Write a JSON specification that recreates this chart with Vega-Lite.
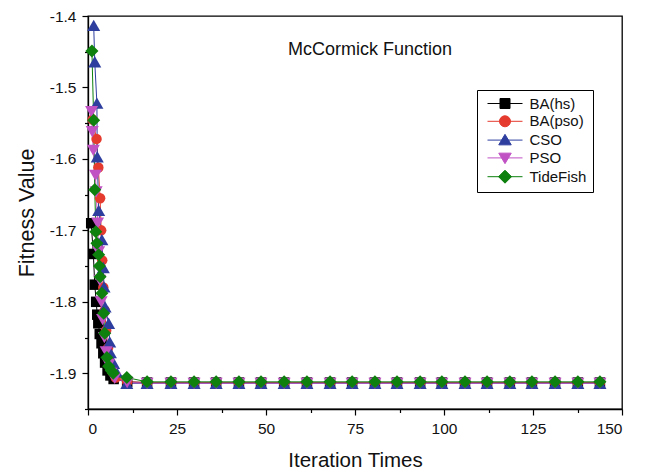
{
  "$schema": "https://vega.github.io/schema/vega-lite/v6.json",
  "width": 534,
  "height": 393,
  "autosize": {"type": "none"},
  "padding": {"left": 88, "top": 16, "right": 25, "bottom": 64},
  "background": "white",
  "config": {
    "font": "Liberation Sans",
    "view": {"stroke": "#000", "strokeWidth": 1.3},
    "axis": {"grid": false, "domainColor": "#000", "tickColor": "#000", "labelColor": "#111", "titleColor": "#111", "labelFontSize": 15.5, "titleFontSize": 20.5, "titleFontWeight": "normal", "domainWidth": 1.3, "tickWidth": 1.2},
    "legend": {"orient": "none", "legendX": 389, "legendY": 74, "strokeColor": "#000", "fillColor": "white", "padding": 6,
      "labelFontSize": 15, "labelColor": "#111", "symbolSize": 100, "symbolOffset": 14.5, "labelOffset": 17, "rowPadding": 1.8, "symbolStrokeWidth": 1}
  },
  "title": {"text": "McCormick Function", "fontSize": 18, "fontWeight": "normal", "frame": "group", "anchor": "middle", "dx": 15, "offset": -50, "color": "#111"},
  "datasets": {"pts": [
    {"s": "BA(hs)", "x": 0.9, "y": -1.690},
    {"s": "BA(hs)", "x": 1.5, "y": -1.733},
    {"s": "BA(hs)", "x": 1.9, "y": -1.776},
    {"s": "BA(hs)", "x": 2.3, "y": -1.800},
    {"s": "BA(hs)", "x": 2.6, "y": -1.818},
    {"s": "BA(hs)", "x": 2.9, "y": -1.830},
    {"s": "BA(hs)", "x": 3.3, "y": -1.845},
    {"s": "BA(hs)", "x": 3.8, "y": -1.858},
    {"s": "BA(hs)", "x": 4.3, "y": -1.872},
    {"s": "BA(hs)", "x": 4.8, "y": -1.885},
    {"s": "BA(hs)", "x": 5.5, "y": -1.896},
    {"s": "BA(hs)", "x": 6.3, "y": -1.903},
    {"s": "BA(hs)", "x": 7.2, "y": -1.908},
    {"s": "BA(hs)", "x": 11.0, "y": -1.912},
    {"s": "BA(pso)", "x": 1.3, "y": -1.545},
    {"s": "BA(pso)", "x": 2.4, "y": -1.572},
    {"s": "BA(pso)", "x": 2.9, "y": -1.612},
    {"s": "BA(pso)", "x": 3.4, "y": -1.655},
    {"s": "BA(pso)", "x": 3.7, "y": -1.700},
    {"s": "BA(pso)", "x": 4.0, "y": -1.742},
    {"s": "BA(pso)", "x": 4.3, "y": -1.780},
    {"s": "BA(pso)", "x": 4.7, "y": -1.812},
    {"s": "BA(pso)", "x": 5.1, "y": -1.840},
    {"s": "BA(pso)", "x": 5.6, "y": -1.865},
    {"s": "BA(pso)", "x": 6.2, "y": -1.885},
    {"s": "BA(pso)", "x": 6.9, "y": -1.898},
    {"s": "BA(pso)", "x": 7.8, "y": -1.906},
    {"s": "BA(pso)", "x": 11.0, "y": -1.912},
    {"s": "CSO", "x": 1.6, "y": -1.413},
    {"s": "CSO", "x": 1.9, "y": -1.464},
    {"s": "CSO", "x": 2.5, "y": -1.522},
    {"s": "CSO", "x": 2.6, "y": -1.597},
    {"s": "CSO", "x": 3.0, "y": -1.672},
    {"s": "CSO", "x": 3.9, "y": -1.713},
    {"s": "CSO", "x": 4.3, "y": -1.752},
    {"s": "CSO", "x": 4.5, "y": -1.779},
    {"s": "CSO", "x": 4.8, "y": -1.807},
    {"s": "CSO", "x": 5.8, "y": -1.830},
    {"s": "CSO", "x": 6.1, "y": -1.856},
    {"s": "CSO", "x": 6.3, "y": -1.871},
    {"s": "CSO", "x": 7.2, "y": -1.886},
    {"s": "CSO", "x": 8.0, "y": -1.898},
    {"s": "CSO", "x": 10.9, "y": -1.914},
    {"s": "PSO", "x": 1.0, "y": -1.534},
    {"s": "PSO", "x": 1.2, "y": -1.562},
    {"s": "PSO", "x": 1.5, "y": -1.588},
    {"s": "PSO", "x": 2.1, "y": -1.623},
    {"s": "PSO", "x": 2.3, "y": -1.646},
    {"s": "PSO", "x": 2.7, "y": -1.690},
    {"s": "PSO", "x": 3.0, "y": -1.730},
    {"s": "PSO", "x": 3.3, "y": -1.770},
    {"s": "PSO", "x": 3.7, "y": -1.800},
    {"s": "PSO", "x": 4.1, "y": -1.825},
    {"s": "PSO", "x": 4.6, "y": -1.850},
    {"s": "PSO", "x": 5.1, "y": -1.870},
    {"s": "PSO", "x": 5.8, "y": -1.888},
    {"s": "PSO", "x": 6.5, "y": -1.900},
    {"s": "PSO", "x": 7.5, "y": -1.907},
    {"s": "PSO", "x": 11.0, "y": -1.913},
    {"s": "TideFish", "x": 1.1, "y": -1.449},
    {"s": "TideFish", "x": 1.6, "y": -1.546},
    {"s": "TideFish", "x": 1.9, "y": -1.643},
    {"s": "TideFish", "x": 2.2, "y": -1.702},
    {"s": "TideFish", "x": 2.5, "y": -1.718},
    {"s": "TideFish", "x": 3.0, "y": -1.734},
    {"s": "TideFish", "x": 3.2, "y": -1.750},
    {"s": "TideFish", "x": 3.4, "y": -1.765},
    {"s": "TideFish", "x": 3.9, "y": -1.788},
    {"s": "TideFish", "x": 4.4, "y": -1.816},
    {"s": "TideFish", "x": 4.7, "y": -1.844},
    {"s": "TideFish", "x": 5.3, "y": -1.878},
    {"s": "TideFish", "x": 5.8, "y": -1.890},
    {"s": "TideFish", "x": 6.5, "y": -1.896},
    {"s": "TideFish", "x": 7.1, "y": -1.900},
    {"s": "TideFish", "x": 10.9, "y": -1.906},
    {"s": "BA(hs)", "x": 16.6, "y": -1.913}, {"s": "BA(hs)", "x": 23.3, "y": -1.913}, {"s": "BA(hs)", "x": 29.8, "y": -1.913}, {"s": "BA(hs)", "x": 36.0, "y": -1.913}, {"s": "BA(hs)", "x": 42.4, "y": -1.913}, {"s": "BA(hs)", "x": 48.6, "y": -1.913}, {"s": "BA(hs)", "x": 55.1, "y": -1.913}, {"s": "BA(hs)", "x": 61.5, "y": -1.913}, {"s": "BA(hs)", "x": 68.0, "y": -1.913}, {"s": "BA(hs)", "x": 74.2, "y": -1.913}, {"s": "BA(hs)", "x": 80.6, "y": -1.913}, {"s": "BA(hs)", "x": 86.8, "y": -1.913}, {"s": "BA(hs)", "x": 93.3, "y": -1.913}, {"s": "BA(hs)", "x": 99.4, "y": -1.913}, {"s": "BA(hs)", "x": 105.9, "y": -1.913}, {"s": "BA(hs)", "x": 112.1, "y": -1.913}, {"s": "BA(hs)", "x": 118.5, "y": -1.913}, {"s": "BA(hs)", "x": 124.7, "y": -1.913}, {"s": "BA(hs)", "x": 131.2, "y": -1.913}, {"s": "BA(hs)", "x": 137.6, "y": -1.913}, {"s": "BA(hs)", "x": 143.8, "y": -1.913},
    {"s": "BA(pso)", "x": 16.6, "y": -1.913}, {"s": "BA(pso)", "x": 23.3, "y": -1.913}, {"s": "BA(pso)", "x": 29.8, "y": -1.913}, {"s": "BA(pso)", "x": 36.0, "y": -1.913}, {"s": "BA(pso)", "x": 42.4, "y": -1.913}, {"s": "BA(pso)", "x": 48.6, "y": -1.913}, {"s": "BA(pso)", "x": 55.1, "y": -1.913}, {"s": "BA(pso)", "x": 61.5, "y": -1.913}, {"s": "BA(pso)", "x": 68.0, "y": -1.913}, {"s": "BA(pso)", "x": 74.2, "y": -1.913}, {"s": "BA(pso)", "x": 80.6, "y": -1.913}, {"s": "BA(pso)", "x": 86.8, "y": -1.913}, {"s": "BA(pso)", "x": 93.3, "y": -1.913}, {"s": "BA(pso)", "x": 99.4, "y": -1.913}, {"s": "BA(pso)", "x": 105.9, "y": -1.913}, {"s": "BA(pso)", "x": 112.1, "y": -1.913}, {"s": "BA(pso)", "x": 118.5, "y": -1.913}, {"s": "BA(pso)", "x": 124.7, "y": -1.913}, {"s": "BA(pso)", "x": 131.2, "y": -1.913}, {"s": "BA(pso)", "x": 137.6, "y": -1.913}, {"s": "BA(pso)", "x": 143.8, "y": -1.913},
    {"s": "CSO", "x": 16.6, "y": -1.914}, {"s": "CSO", "x": 23.3, "y": -1.914}, {"s": "CSO", "x": 29.8, "y": -1.914}, {"s": "CSO", "x": 36.0, "y": -1.914}, {"s": "CSO", "x": 42.4, "y": -1.914}, {"s": "CSO", "x": 48.6, "y": -1.914}, {"s": "CSO", "x": 55.1, "y": -1.914}, {"s": "CSO", "x": 61.5, "y": -1.914}, {"s": "CSO", "x": 68.0, "y": -1.914}, {"s": "CSO", "x": 74.2, "y": -1.914}, {"s": "CSO", "x": 80.6, "y": -1.914}, {"s": "CSO", "x": 86.8, "y": -1.914}, {"s": "CSO", "x": 93.3, "y": -1.914}, {"s": "CSO", "x": 99.4, "y": -1.914}, {"s": "CSO", "x": 105.9, "y": -1.914}, {"s": "CSO", "x": 112.1, "y": -1.914}, {"s": "CSO", "x": 118.5, "y": -1.914}, {"s": "CSO", "x": 124.7, "y": -1.914}, {"s": "CSO", "x": 131.2, "y": -1.914}, {"s": "CSO", "x": 137.6, "y": -1.914}, {"s": "CSO", "x": 143.8, "y": -1.914},
    {"s": "PSO", "x": 16.6, "y": -1.914}, {"s": "PSO", "x": 23.3, "y": -1.914}, {"s": "PSO", "x": 29.8, "y": -1.914}, {"s": "PSO", "x": 36.0, "y": -1.914}, {"s": "PSO", "x": 42.4, "y": -1.914}, {"s": "PSO", "x": 48.6, "y": -1.914}, {"s": "PSO", "x": 55.1, "y": -1.914}, {"s": "PSO", "x": 61.5, "y": -1.914}, {"s": "PSO", "x": 68.0, "y": -1.914}, {"s": "PSO", "x": 74.2, "y": -1.914}, {"s": "PSO", "x": 80.6, "y": -1.914}, {"s": "PSO", "x": 86.8, "y": -1.914}, {"s": "PSO", "x": 93.3, "y": -1.914}, {"s": "PSO", "x": 99.4, "y": -1.914}, {"s": "PSO", "x": 105.9, "y": -1.914}, {"s": "PSO", "x": 112.1, "y": -1.914}, {"s": "PSO", "x": 118.5, "y": -1.914}, {"s": "PSO", "x": 124.7, "y": -1.914}, {"s": "PSO", "x": 131.2, "y": -1.914}, {"s": "PSO", "x": 137.6, "y": -1.914}, {"s": "PSO", "x": 143.8, "y": -1.914},
    {"s": "TideFish", "x": 16.6, "y": -1.912}, {"s": "TideFish", "x": 23.3, "y": -1.912}, {"s": "TideFish", "x": 29.8, "y": -1.912}, {"s": "TideFish", "x": 36.0, "y": -1.912}, {"s": "TideFish", "x": 42.4, "y": -1.912}, {"s": "TideFish", "x": 48.6, "y": -1.912}, {"s": "TideFish", "x": 55.1, "y": -1.912}, {"s": "TideFish", "x": 61.5, "y": -1.912}, {"s": "TideFish", "x": 68.0, "y": -1.912}, {"s": "TideFish", "x": 74.2, "y": -1.912}, {"s": "TideFish", "x": 80.6, "y": -1.912}, {"s": "TideFish", "x": 86.8, "y": -1.912}, {"s": "TideFish", "x": 93.3, "y": -1.912}, {"s": "TideFish", "x": 99.4, "y": -1.912}, {"s": "TideFish", "x": 105.9, "y": -1.912}, {"s": "TideFish", "x": 112.1, "y": -1.912}, {"s": "TideFish", "x": 118.5, "y": -1.912}, {"s": "TideFish", "x": 124.7, "y": -1.912}, {"s": "TideFish", "x": 131.2, "y": -1.912}, {"s": "TideFish", "x": 137.6, "y": -1.912}, {"s": "TideFish", "x": 143.8, "y": -1.912}
  ]},
  "data": {"name": "pts"},
  "encoding": {
    "x": {"field": "x", "type": "quantitative", "scale": {"domain": [0, 150], "nice": false},
      "axis": {"title": "Iteration Times", "values": [0, 12.5, 25, 37.5, 50, 62.5, 75, 87.5, 100, 112.5, 125, 137.5, 150], "format": "d",
        "labelExpr": "datum.value % 25 === 0 ? datum.label : ''",
        "tickSize": {"condition": {"test": "datum.value % 25 === 0", "value": 6}, "value": 3.5},
        "labelPadding": 6, "titlePadding": 14}},
    "y": {"field": "y", "type": "quantitative", "scale": {"domain": [-1.95, -1.4], "nice": false, "zero": false},
      "axis": {"title": "Fitness Value", "titleFontSize": 21.5, "values": [-1.95, -1.9, -1.85, -1.8, -1.75, -1.7, -1.65, -1.6, -1.55, -1.5, -1.45, -1.4], "format": ".1f",
        "labelExpr": "abs(datum.value * 10 - round(datum.value * 10)) < 0.000001 ? replace(datum.label, '\u2212', '-') : ''",
        "tickSize": {"condition": {"test": "abs(datum.value * 10 - round(datum.value * 10)) < 0.000001", "value": 6}, "value": 3.5},
        "labelPadding": 6, "titlePadding": 11}},
    "color": {"field": "s", "type": "nominal",
      "scale": {"domain": ["BA(hs)", "BA(pso)", "CSO", "PSO", "TideFish"], "range": ["#000000", "#e53a2e", "#2e3e9f", "#c052c4", "#0d800d"]},
      "legend": {"title": null, "symbolOpacity": 1,
        "encode": {"symbols": {"update": {
          "shape": {"signal": "datum.value === 'BA(hs)' ? 'M-3.5,0H3.5M-1,-1H1V1H-1Z' : datum.value === 'BA(pso)' ? 'M-3.5,0H3.5M-1.1,0A1.1,1.1,0,1,1,1.1,0A1.1,1.1,0,1,1,-1.1,0Z' : datum.value === 'CSO' ? 'M-3.5,0H3.5M0,-1.15L1.25,0.95H-1.25Z' : datum.value === 'PSO' ? 'M-3.5,0H3.5M0,1.15L1.25,-0.95H-1.25Z' : 'M-3.5,0H3.5M0,-1.3L1.3,0L0,1.3L-1.3,0Z'"},
          "fill": {"signal": "scale('color', datum.value)"},
          "stroke": {"signal": "scale('color', datum.value)"},
          "strokeWidth": {"value": 1}
        }}}}
    }
  },
  "layer": [
    {"mark": {"type": "line", "strokeWidth": 1}},
    {"transform": [{"filter": "datum.s === 'BA(hs)'"}], "mark": {"type": "point", "shape": "square", "filled": true, "opacity": 1, "strokeWidth": 1, "size": 110}},
    {"transform": [{"filter": "datum.s === 'BA(pso)'"}], "mark": {"type": "point", "shape": "circle", "filled": true, "opacity": 1, "strokeWidth": 1, "size": 110}},
    {"transform": [{"filter": "datum.s === 'CSO'"}], "mark": {"type": "point", "shape": "triangle-up", "filled": true, "opacity": 1, "strokeWidth": 1, "size": 170}},
    {"transform": [{"filter": "datum.s === 'PSO'"}], "mark": {"type": "point", "shape": "triangle-down", "filled": true, "opacity": 1, "strokeWidth": 1, "size": 170}},
    {"transform": [{"filter": "datum.s === 'TideFish'"}], "mark": {"type": "point", "shape": "diamond", "filled": true, "opacity": 1, "strokeWidth": 1, "size": 170}}
  ]
}
